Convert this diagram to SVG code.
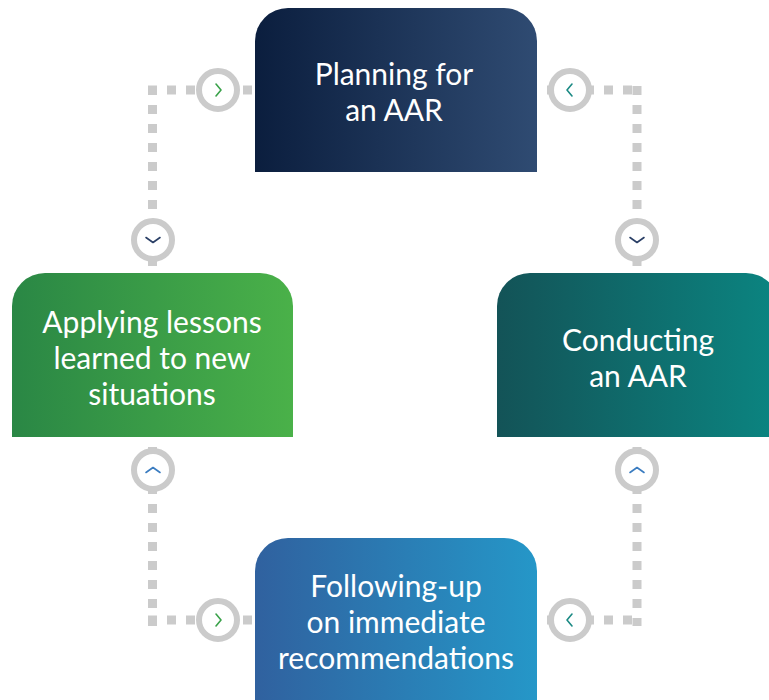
<svg xmlns="http://www.w3.org/2000/svg" width="769" height="700" viewBox="0 0 769 700">
<defs>
<linearGradient id="gTop" x1="0" y1="0" x2="1" y2="0"><stop offset="0" stop-color="#0b1e3e"/><stop offset="1" stop-color="#2f4b72"/></linearGradient>
<linearGradient id="gLeft" x1="0" y1="0" x2="1" y2="0"><stop offset="0" stop-color="#2a8745"/><stop offset="1" stop-color="#4ab149"/></linearGradient>
<linearGradient id="gRight" x1="0" y1="0" x2="1" y2="0"><stop offset="0" stop-color="#135357"/><stop offset="1" stop-color="#0b8581"/></linearGradient>
<linearGradient id="gBottom" x1="0" y1="0" x2="1" y2="0"><stop offset="0" stop-color="#30619f"/><stop offset="1" stop-color="#2597c8"/></linearGradient>
<style>
.dots{fill:none;stroke:#cbcbcb;stroke-width:9;stroke-dasharray:9 10}
.ring{fill:#fff;stroke:#cbcbcb;stroke-width:6}
.chev{fill:none;stroke-width:1.6;stroke-linecap:round;stroke-linejoin:round}
.lbl{fill:#fff;font-family:Lato,"Open Sans",sans-serif;font-size:30px;font-weight:400;text-anchor:middle}
</style>
</defs>
<g id="connectors">
<path class="dots" d="M148,90 H642"/>
<path class="dots" d="M152.5,86 V626"/>
<path class="dots" d="M637,86 V626"/>
<path class="dots" d="M148,620 H642"/>
<circle class="ring" cx="218" cy="90" r="19"/>
<path class="chev" stroke="#3aa24a" d="M216,84 L221,90 L216,96"/>
<circle class="ring" cx="570" cy="90" r="19"/>
<path class="chev" stroke="#1b8a84" d="M572,84 L567,90 L572,96"/>
<circle class="ring" cx="153" cy="240" r="19"/>
<path class="chev" stroke="#2a3f66" d="M146,237.5 L153,242.5 L160,237.5"/>
<circle class="ring" cx="637" cy="240" r="19"/>
<path class="chev" stroke="#2a3f66" d="M630,237.5 L637,242.5 L644,237.5"/>
<circle class="ring" cx="153" cy="470" r="19"/>
<path class="chev" stroke="#3a7cc0" d="M146,472.5 L153,467.5 L160,472.5"/>
<circle class="ring" cx="637" cy="470" r="19"/>
<path class="chev" stroke="#3a7cc0" d="M630,472.5 L637,467.5 L644,472.5"/>
<circle class="ring" cx="218" cy="620" r="19"/>
<path class="chev" stroke="#3aa24a" d="M216,614 L221,620 L216,626"/>
<circle class="ring" cx="570" cy="620" r="19"/>
<path class="chev" stroke="#1b8a84" d="M572,614 L567,620 L572,626"/>
</g>
<g id="planning">
<path fill="url(#gTop)" d="M255,172 V41 A33,33 0 0 1 288,8 H504 A33,33 0 0 1 537,41 V172 Z"/>
<text class="lbl" x="394" y="85">Planning for</text>
<text class="lbl" x="394" y="121">an AAR</text>
</g>
<g id="applying">
<path fill="url(#gLeft)" d="M12,437 V306 A33,33 0 0 1 45,273 H260 A33,33 0 0 1 293,306 V437 Z"/>
<text class="lbl" x="152" y="333">Applying lessons</text>
<text class="lbl" x="152" y="369">learned to new</text>
<text class="lbl" x="152" y="405">situations</text>
</g>
<g id="conducting">
<path fill="url(#gRight)" d="M497,437 V306 A33,33 0 0 1 530,273 H746 A33,33 0 0 1 779,306 V437 Z"/>
<text class="lbl" x="638" y="351">Conducting</text>
<text class="lbl" x="638" y="387">an AAR</text>
</g>
<g id="following">
<path fill="url(#gBottom)" d="M255,705 V571 A33,33 0 0 1 288,538 H504 A33,33 0 0 1 537,571 V705 Z"/>
<text class="lbl" x="396" y="597">Following-up</text>
<text class="lbl" x="396" y="633">on immediate</text>
<text class="lbl" x="396" y="669">recommendations</text>
</g>
</svg>
